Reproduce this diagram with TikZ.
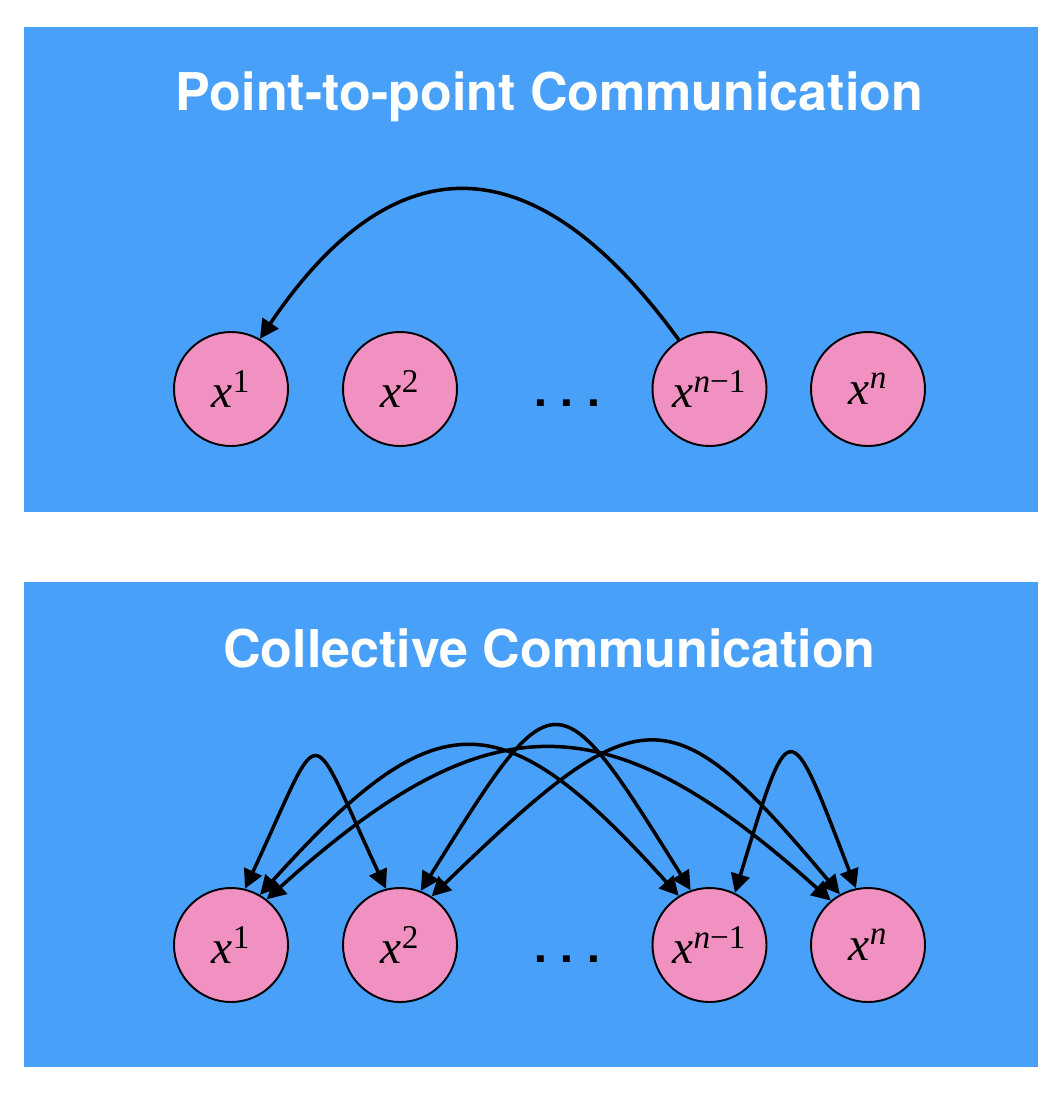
\documentclass[tikz,border=0pt]{standalone}
\usepackage{fontspec}
\newfontfamily\headfont{TeX Gyre Heros}
\newfontfamily\varfont{Liberation Serif}
\usepackage{tikz}
\usetikzlibrary{arrows.meta}

\definecolor{panelblue}{RGB}{72,160,248}
\definecolor{nodepink}{RGB}{240,145,193}

\begin{document}
\begin{tikzpicture}[
        panel/.style={fill=panelblue},
        title/.style={anchor=base, text=white, font=\headfont\bfseries\fontsize{29.6}{34}\selectfont},
        proc/.style={circle, draw=black, line width=1.1pt, fill=nodepink, minimum size=2.28cm, inner sep=0pt, font=\varfont\fontsize{27}{30}\selectfont},
        elide/.style={anchor=base, font=\headfont\bfseries\fontsize{26}{30}\selectfont},
        arrow/.style={-{Triangle[length=0.38cm,width=0.38cm]}, line width=2pt},
        link/.style={{Triangle[length=0.38cm,width=0.38cm]}-{Triangle[length=0.38cm,width=0.38cm]}, line width=2pt}
    ]
    \useasboundingbox (0,0) rectangle (21.2,-21.96);

    % Top Panel
    \fill[panel] (0.48,-0.54) rectangle (20.76,-10.24);
    \node[title] (ptitle) at (10.99,-2.2) {Point-to-point Communication};
    \node[proc] (p1) at (4.62,-7.78) {\textit{x}\textsuperscript{1}};
    \node[proc] (p2) at (8.0,-7.78) {\textit{x}\textsuperscript{2}};
    \node[elide] (pdots) at (11.34,-8.12) {.\kern0.3em.\kern0.3em.};
    \node[proc] (pn1) at (14.19,-7.78) {\textit{x}\textsuperscript{\textit{n}−1}};
    \node[proc] (pn) at (17.36,-7.78) {\textit{x}\textsuperscript{\textit{n}}};

    % Single Message
    \draw[arrow] (pn1.122) to[out=126, in=56, distance=4.85cm] (p1.60);

    % Bottom Panel
    \fill[panel] (0.48,-11.64) rectangle (20.76,-21.34);
    \node[title] (ctitle) at (10.99,-13.34) {Collective Communication};
    \node[proc] (c1) at (4.62,-18.9) {\textit{x}\textsuperscript{1}};
    \node[proc] (c2) at (8.0,-18.9) {\textit{x}\textsuperscript{2}};
    \node[elide] (cdots) at (11.34,-19.24) {.\kern0.3em.\kern0.3em.};
    \node[proc] (cn1) at (14.19,-18.9) {\textit{x}\textsuperscript{\textit{n}−1}};
    \node[proc] (cn) at (17.36,-18.9) {\textit{x}\textsuperscript{\textit{n}}};

    % All Pairs
    \draw[link] (c1.76) to[out=65, in=115, distance=3.8cm] (c2.104);
    \draw[link] (c1.60) to[out=48, in=132, distance=5.3cm] (cn1.122);
    \draw[link] (c1.52) to[out=42, in=138, distance=6cm] (cn.130);
    \draw[link] (c2.69) to[out=58, in=122, distance=5.1cm] (cn1.109);
    \draw[link] (c2.57) to[out=44, in=130, out distance=5.84cm, in distance=5.3cm] (cn.119);
    \draw[link] (cn1.64) to[out=73, in=111, distance=3.8cm] (cn.102);
\end{tikzpicture}
\end{document}
